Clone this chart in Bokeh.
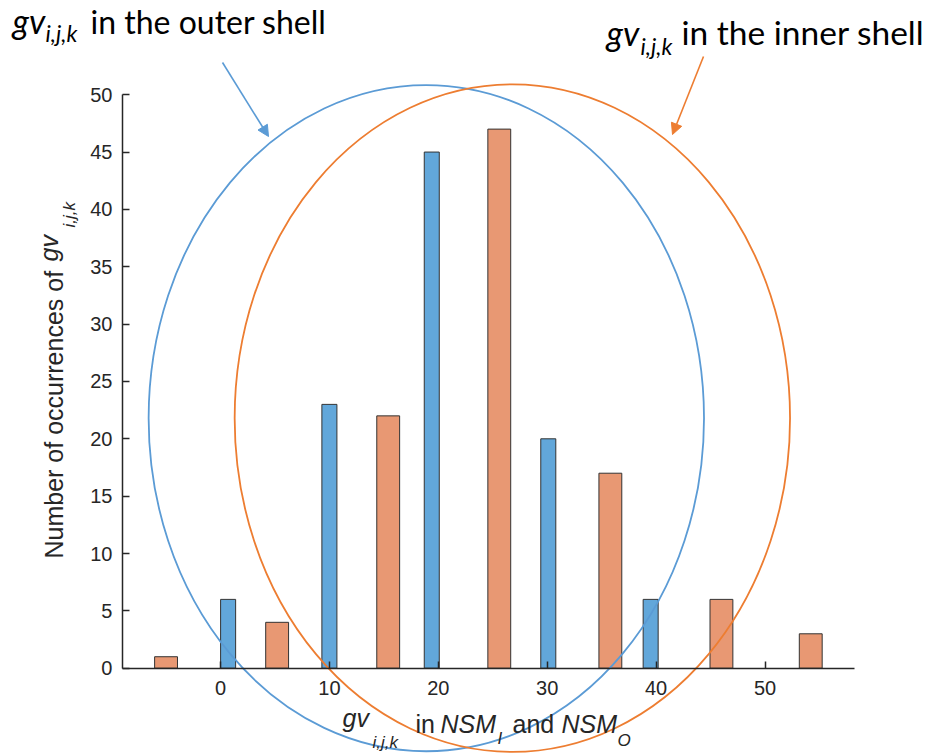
import math
from bokeh.plotting import figure
from bokeh.models import Range1d, Arrow, NormalHead, FixedTicker
from bokeh.core.properties import value
from bokeh.embed import file_html
from bokeh.resources import INLINE

# ---- data ----
blue_x = [0.7, 10.0, 19.4, 30.1, 39.5]          # gv in the outer shell
blue_counts = [6, 23, 45, 20, 6]
orange_x = [-5.0, 5.2, 15.4, 25.6, 35.8, 46.0, 54.2]   # gv in the inner shell
orange_counts = [1, 4, 22, 47, 17, 6, 3]
x_ticks = [0, 10, 20, 30, 40, 50]
y_ticks = [0, 5, 10, 15, 20, 25, 30, 35, 40, 45, 50]

# shells (ellipses) in data units
shell_cx = [18.9, 26.8]
shell_cy = [21.8, 21.8]
shell_w = [51.0, 51.0]
shell_h = [58.1, 58.2]
shell_colors = ["#5B9BD5", "#ED7D31"]

BLUE_FILL = "#62A7DA"
ORANGE_FILL = "#E89873"
EDGE = "#333333"
AX = "#262626"

# pixel mapping used for layout of free texts
X0, SX = 220.0, 10.89
Y0, SY = 667.7, 11.47
W, H = 927, 754
BASE_CORR = 0.39   # empirical shift so that the given pixel is the text baseline

def tx(px):
    return (px - X0) / SX

def ty(py):
    return (Y0 - py) / SY

p = figure(width=W, height=H,
           x_range=Range1d(tx(0), tx(W)), y_range=Range1d(ty(H), ty(0)),
           output_backend="svg", toolbar_location=None, min_border=0,
           background_fill_color="white", border_fill_color="white")
p.outline_line_color = None
p.xgrid.visible = False
p.ygrid.visible = False

# axes placed inside the frame
for ax in (p.xaxis, p.yaxis):
    ax.axis_line_color = AX
    ax.axis_line_width = 1.5
    ax.major_tick_line_color = AX
    ax.major_tick_line_width = 1.5
    ax.major_tick_in = 7
    ax.major_tick_out = 0
    ax.minor_tick_line_color = None
    ax.major_label_text_font = "Liberation Sans"
    ax.major_label_text_font_size = "20px"
    ax.major_label_text_color = AX

p.xaxis.fixed_location = 0
p.xaxis.bounds = (-9.0, 58.2)
p.xaxis.ticker = FixedTicker(ticks=x_ticks)
p.xaxis.major_label_standoff = 13

p.yaxis.fixed_location = -9.0
p.yaxis.bounds = (0, 50)
p.yaxis.ticker = FixedTicker(ticks=y_ticks)
p.yaxis.major_label_standoff = 10

# bars
p.vbar(x=blue_x, top=blue_counts, bottom=0, width=1.38,
       fill_color=BLUE_FILL, line_color=EDGE, line_width=1)
p.vbar(x=orange_x, top=orange_counts, bottom=0, width=2.1,
       fill_color=ORANGE_FILL, line_color=EDGE, line_width=1)

# shells
p.ellipse(x=shell_cx, y=shell_cy, width=shell_w, height=shell_h,
          fill_color=None, line_color=shell_colors, line_width=1.8)

# arrows
arrows = [((222, 62), (268, 136), shell_colors[0]),
          ((703, 56), (672, 134), shell_colors[1])]
for (sx, sy), (ex, ey), c in arrows:
    p.add_layout(Arrow(end=NormalHead(size=11, fill_color=c, line_color=c, line_width=1),
                       x_start=tx(sx), y_start=ty(sy), x_end=tx(ex), y_end=ty(ey),
                       line_color=c, line_width=1.6))

def put(txt, px, py, size, italic=False, font="Liberation Sans", rotated=False,
        color="black"):
    if rotated:
        px = px - BASE_CORR * size
    else:
        py = py - BASE_CORR * size
    p.text(x=[tx(px)], y=[ty(py)], text=[txt], angle=math.pi / 2 if rotated else 0.0,
           text_font=value(font), text_font_size=f"{size}px",
           text_font_style="italic" if italic else "normal",
           text_baseline="alphabetic", text_align="left", text_color=color)

# top annotations (Calibri-like)
put("gv", 12, 33, 34, True, "Lato")
put("i,j,k", 45, 41, 23, True, "Lato")
put("in the outer shell", 90, 33, 32, False, "Lato")

put("gv", 606, 45, 34, True, "Lato")
put("i,j,k", 640, 54, 23, True, "Lato")
put("in the inner shell", 681, 45, 33.5, False, "Lato")

# x axis label
put("gv", 342, 727, 25, True, color=AX)
put("i,j,k", 372, 749, 17, True, color=AX)
put("in", 415, 733, 25, False, color=AX)
put("NSM", 440, 733, 25, True, color=AX)
put("I", 497, 745, 17, True, color=AX)
put("and", 512, 733, 25, False, color=AX)
put("NSM", 561, 733, 25, True, color=AX)
put("O", 617, 747, 17, True, color=AX)

# y axis label (rotated, reading upwards)
put("Number of occurrences of", 63.5, 558, 25, False, rotated=True, color=AX)
put("gv", 58, 261, 25, True, rotated=True, color=AX)
put("i,j,k", 76, 227, 17, True, rotated=True, color=AX)

open("out.html", "w").write(file_html(p, INLINE))
